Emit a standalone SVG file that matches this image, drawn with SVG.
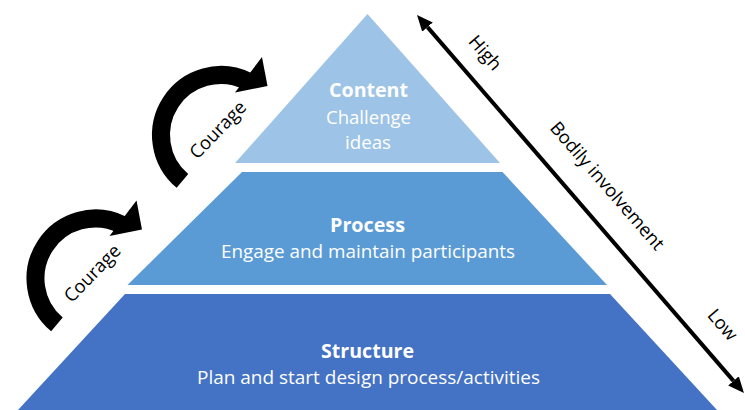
<svg xmlns="http://www.w3.org/2000/svg" width="745" height="410" viewBox="0 0 745 410">
  <defs>
    <style>
      .lvl-title { font-family: "Open Sans", "Liberation Sans", sans-serif; font-weight: bold; font-size: 20px; fill: #ffffff; text-anchor: middle; }
      .lvl-text { font-family: "Open Sans", "Liberation Sans", sans-serif; font-size: 18.4px; fill: #ffffff; text-anchor: middle; }
      .lbl { font-family: "Open Sans", "Liberation Sans", sans-serif; font-size: 18.4px; fill: #000000; text-anchor: middle; }
      .arc { fill: none; stroke: #000000; stroke-width: 18; stroke-linecap: butt; }
      .axis { stroke: #000000; stroke-width: 4; fill: none; }
    </style>
    <marker id="head" viewBox="0 0 16 14" refX="0" refY="7" markerWidth="16" markerHeight="14" markerUnits="userSpaceOnUse" orient="auto-start-reverse">
      <path d="M0,0 L16,7 L0,14 Z" fill="#000000"/>
    </marker>
    <g id="curved-arrow">
      <path class="arc" d="M182.43,180.96 A60,60 0 0 1 247.30,81.07"/>
      <polygon points="262,57 267.5,86 235,92.5" fill="#000000"/>
    </g>
  </defs>

  <rect width="745" height="410" fill="#ffffff"/>

  <g id="structure">
    <polygon points="125,294 610,294 717,410 18,410" fill="#4472C4"/>
    <text class="lvl-title" x="367.5" y="358" textLength="93" lengthAdjust="spacingAndGlyphs">Structure</text>
    <text class="lvl-text" x="368.5" y="384" textLength="343" lengthAdjust="spacingAndGlyphs">Plan and start design process/activities</text>
  </g>

  <g id="process">
    <polygon points="242,172 502.5,172 607,285 127.5,285" fill="#5B9BD5"/>
    <text class="lvl-title" x="367.5" y="232" textLength="75" lengthAdjust="spacingAndGlyphs">Process</text>
    <text class="lvl-text" x="368" y="258" textLength="294" lengthAdjust="spacingAndGlyphs">Engage and maintain participants</text>
  </g>

  <g id="content">
    <polygon points="367.5,14 235,163 500,163" fill="#9DC3E6"/>
    <text class="lvl-title" x="368.5" y="97" textLength="79" lengthAdjust="spacingAndGlyphs">Content</text>
    <text class="lvl-text" x="368.5" y="124" textLength="85" lengthAdjust="spacingAndGlyphs">Challenge</text>
    <text class="lvl-text" x="368" y="149" textLength="46" lengthAdjust="spacingAndGlyphs">ideas</text>
  </g>

  <g id="connectors">
    <g id="courage-upper">
      <use href="#curved-arrow"/>
      <text class="lbl" transform="translate(218,130) rotate(-46)" y="6">Courage</text>
    </g>
    <g id="courage-lower">
      <use href="#curved-arrow" transform="translate(-125.5,143.5)"/>
      <text class="lbl" transform="translate(92.5,273.5) rotate(-46)" y="6">Courage</text>
    </g>
    <g id="bodily-axis">
      <line class="axis" x1="427.5" y1="27.1" x2="733.5" y2="380.9" marker-start="url(#head)" marker-end="url(#head)"/>
      <text class="lbl" transform="translate(485,53) rotate(49)" y="6">High</text>
      <text class="lbl" transform="translate(607,186) rotate(49)" y="6">Bodily involvement</text>
      <text class="lbl" transform="translate(722.5,325) rotate(49)" y="6">Low</text>
    </g>
  </g>
</svg>
